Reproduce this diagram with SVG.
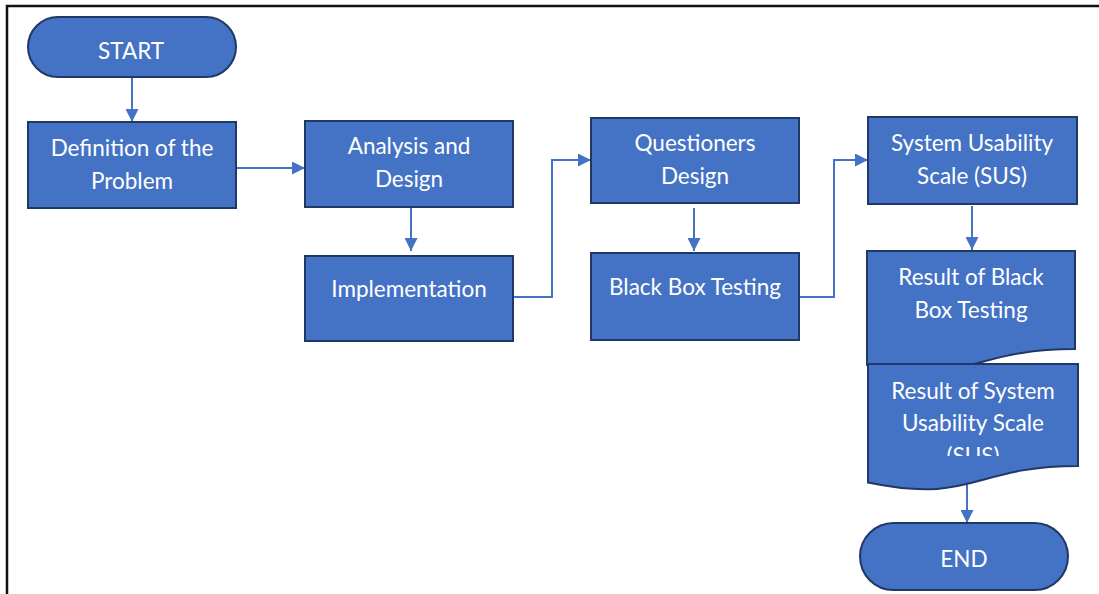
<svg xmlns="http://www.w3.org/2000/svg" width="1099" height="594" viewBox="0 0 1099 594">
<style>
.shape{fill:#4472C4;stroke:#203864;stroke-width:2}
.lbl{fill:#FFFFFF;font-family:Lato,"Open Sans","Liberation Sans",sans-serif;font-size:22.5px;text-anchor:middle}
.conn{fill:none;stroke:#4472C4;stroke-width:2}
.frame{fill:none;stroke:#111111;stroke-width:2.5}
</style>
<defs>
<marker id="arrow" viewBox="0 0 10 10" refX="10" refY="5" markerWidth="13" markerHeight="13" markerUnits="userSpaceOnUse" orient="auto">
<path d="M0,0 L10,5 L0,10 Z" fill="#4472C4"/>
</marker>
<clipPath id="clipSus"><rect x="868" y="364" width="210" height="92"/></clipPath>
</defs>
<rect width="1099" height="594" fill="#FFFFFF"/>
<path class="frame" d="M7,594 V6 H1099"/>

<g id="connectors">
<path class="conn" d="M132,78 V122" marker-end="url(#arrow)"/>
<path class="conn" d="M236,168 H305" marker-end="url(#arrow)"/>
<path class="conn" d="M411,207 V251" marker-end="url(#arrow)"/>
<path class="conn" d="M513,297 H552 V160 H591" marker-end="url(#arrow)"/>
<path class="conn" d="M694,208 V251" marker-end="url(#arrow)"/>
<path class="conn" d="M799,297 H834 V160 H868" marker-end="url(#arrow)"/>
<path class="conn" d="M972,206 V250" marker-end="url(#arrow)"/>
<path class="conn" d="M967,484 V523" marker-end="url(#arrow)"/>
</g>

<g id="start">
<rect class="shape" x="28" y="17" width="208" height="60" rx="30" ry="30"/>
<text class="lbl" x="131" y="59">START</text>
</g>
<g id="definition">
<rect class="shape" x="28" y="122" width="208" height="86"/>
<text class="lbl" x="132" y="156">Definition of the</text>
<text class="lbl" x="132" y="189">Problem</text>
</g>
<g id="analysis">
<rect class="shape" x="305" y="121" width="208" height="86"/>
<text class="lbl" x="409" y="154">Analysis and</text>
<text class="lbl" x="409" y="187">Design</text>
</g>
<g id="implementation">
<rect class="shape" x="305" y="256" width="208" height="85"/>
<text class="lbl" x="409" y="297">Implementation</text>
</g>
<g id="questioners">
<rect class="shape" x="591" y="118" width="208" height="85"/>
<text class="lbl" x="695" y="151">Questioners</text>
<text class="lbl" x="695" y="184">Design</text>
</g>
<g id="blackbox">
<rect class="shape" x="591" y="253" width="208" height="87"/>
<text class="lbl" x="695" y="295">Black Box Testing</text>
</g>
<g id="sus">
<rect class="shape" x="868" y="117" width="209" height="87"/>
<text class="lbl" x="972" y="151">System Usability</text>
<text class="lbl" x="972" y="184">Scale (SUS)</text>
</g>
<g id="result-blackbox">
<path class="shape" d="M867,251 H1075 V349 C971,349 971,386 867,365 Z"/>
<text class="lbl" x="971" y="285">Result of Black</text>
<text class="lbl" x="971" y="318">Box Testing</text>
</g>
<g id="result-sus">
<path class="shape" d="M868,364 H1078 V466 C973,466 973,504.6 868,482.6 Z"/>
<text class="lbl" x="973" y="399">Result of System</text>
<text class="lbl" x="973" y="431">Usability Scale</text>
<text class="lbl" x="973" y="464" clip-path="url(#clipSus)">(SUS)</text>
</g>
<g id="end">
<rect class="shape" x="860" y="523" width="208" height="67" rx="33.5" ry="33.5"/>
<text class="lbl" x="964" y="567">END</text>
</g>
</svg>
